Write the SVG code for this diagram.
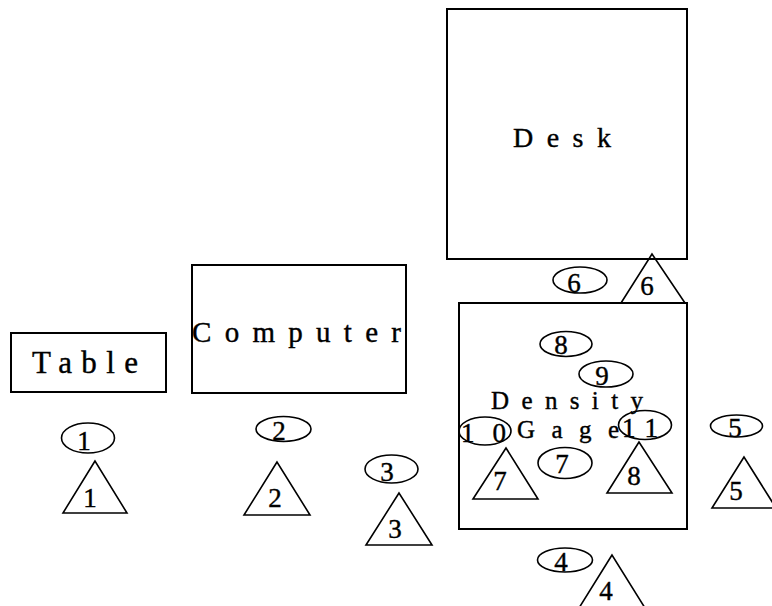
<svg xmlns="http://www.w3.org/2000/svg" width="772" height="606" viewBox="0 0 772 606">
<style>
.box{fill:none;stroke:#000;stroke-width:2}
.sh{fill:none;stroke:#000;stroke-width:1.6}
.lbl{font-family:"Liberation Serif","Times New Roman",serif;fill:#000;stroke:#000;stroke-width:0.4}
.num{font-family:"Liberation Serif","Times New Roman",serif;font-size:27px;fill:#000;stroke:#000;stroke-width:0.4;text-anchor:middle}
</style>
<rect width="772" height="606" fill="#fff"/>
<g id="connectors"/>
<g id="table">
<rect class="box" x="11" y="333" width="155" height="59"/>
<text class="lbl" x="32" y="373" font-size="31" textLength="106" lengthAdjust="spacing">Table</text>
</g>
<g id="computer">
<rect class="box" x="192" y="265" width="214" height="128"/>
<text class="lbl" x="192" y="342" font-size="29" textLength="209" lengthAdjust="spacing">Computer</text>
</g>
<g id="desk">
<rect class="box" x="447" y="9" width="240" height="250"/>
<text class="lbl" x="513" y="147" font-size="28" textLength="98" lengthAdjust="spacing">Desk</text>
</g>
<g id="density-gage">
<rect class="box" x="459" y="303" width="228" height="226"/>
<text class="lbl" x="491" y="409" font-size="25" textLength="152" lengthAdjust="spacing">Density</text>
<text class="lbl" x="517" y="438" font-size="25" textLength="102" lengthAdjust="spacing">Gage</text>
</g>
<g id="ellipse-1"><ellipse class="sh" cx="88" cy="438" rx="26.5" ry="15"/><text class="num" x="84" y="450">1</text></g>
<g id="ellipse-2"><ellipse class="sh" cx="283.5" cy="429" rx="27.5" ry="12.5"/><text class="num" x="279" y="440">2</text></g>
<g id="ellipse-3"><ellipse class="sh" cx="391.5" cy="469" rx="26.5" ry="14"/><text class="num" x="387" y="481">3</text></g>
<g id="ellipse-4"><ellipse class="sh" cx="565" cy="560" rx="27.5" ry="12"/><text class="num" x="561" y="571">4</text></g>
<g id="ellipse-5"><ellipse class="sh" cx="736.5" cy="426" rx="26" ry="11"/><text class="num" x="735" y="437">5</text></g>
<g id="ellipse-6"><ellipse class="sh" cx="580" cy="280" rx="27" ry="13"/><text class="num" x="574" y="292">6</text></g>
<g id="ellipse-7"><ellipse class="sh" cx="565" cy="463" rx="27" ry="15.5"/><text class="num" x="562" y="473">7</text></g>
<g id="ellipse-8"><ellipse class="sh" cx="566" cy="344" rx="26" ry="12.5"/><text class="num" x="561" y="354">8</text></g>
<g id="ellipse-9"><ellipse class="sh" cx="606" cy="374" rx="27" ry="13"/><text class="num" x="602" y="385">9</text></g>
<g id="ellipse-10"><ellipse class="sh" cx="485" cy="431" rx="26" ry="14"/><text class="lbl" x="461" y="442" font-size="27" textLength="45" lengthAdjust="spacing">10</text></g>
<g id="ellipse-11"><ellipse class="sh" cx="645" cy="425" rx="26.5" ry="14.5"/><text class="lbl" x="622" y="437" font-size="27" textLength="36" lengthAdjust="spacing">11</text></g>
<g id="triangle-1"><polygon class="sh" points="95,461 63,513 127,513"/><text class="num" x="90" y="507">1</text></g>
<g id="triangle-2"><polygon class="sh" points="277,462 244,515 310,515"/><text class="num" x="275" y="507">2</text></g>
<g id="triangle-3"><polygon class="sh" points="399,493 366,545 432,545"/><text class="num" x="395" y="538">3</text></g>
<g id="triangle-4"><polygon class="sh" points="612,555 579,608 645,608"/><text class="num" x="606" y="600">4</text></g>
<g id="triangle-5"><polygon class="sh" points="744,457 712,508 776,508"/><text class="num" x="736" y="500">5</text></g>
<g id="triangle-6"><polygon class="sh" points="652,254 621,303 685,303"/><text class="num" x="647" y="295">6</text></g>
<g id="triangle-7"><polygon class="sh" points="506,448 473,499 538,499"/><text class="num" x="500" y="490">7</text></g>
<g id="triangle-8"><polygon class="sh" points="639,442 607,493 672,493"/><text class="num" x="634" y="485">8</text></g>
</svg>
